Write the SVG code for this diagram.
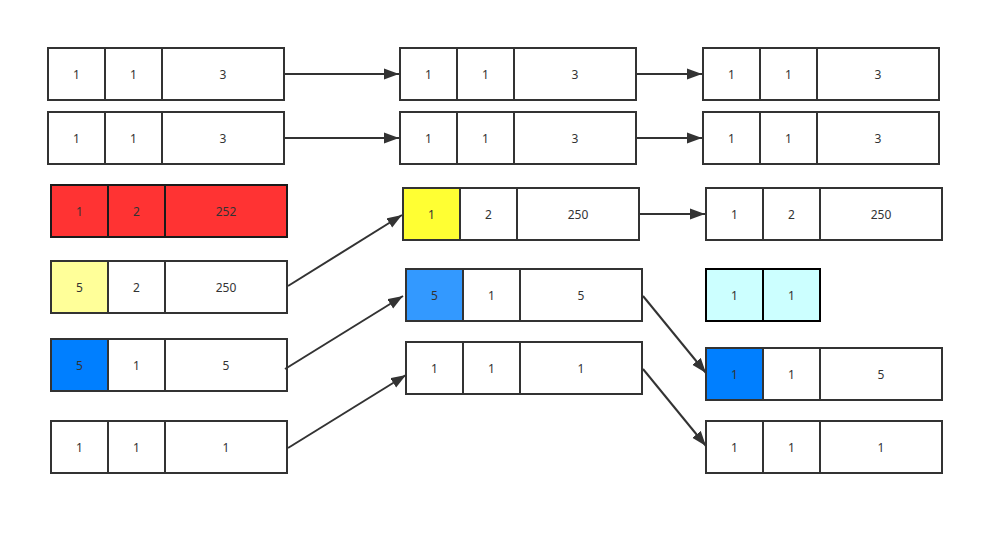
<svg xmlns="http://www.w3.org/2000/svg" width="1004" height="535" viewBox="0 0 1004 535">
<style>
.c{fill:#fff;stroke:#333;stroke-width:2}
.k{stroke:#1a1a1a}
text{font-family:"Noto Sans","DejaVu Sans",sans-serif;font-size:12px;fill:#333;text-anchor:middle;dominant-baseline:central}
.e{fill:none;stroke:#333;stroke-width:2}
</style>
<defs>
<marker id="a" markerWidth="10" markerHeight="8" refX="9" refY="4" orient="auto" markerUnits="userSpaceOnUse" viewBox="0 0 10 8">
<path d="M0,0 L10,4 L0,8 L2,4 Z" fill="#333" transform="scale(1)"/>
</marker>
<marker id="b" markerWidth="16" markerHeight="12" refX="15" refY="6" orient="auto" markerUnits="userSpaceOnUse">
<path d="M0,0.5 L15,6 L0,11.5 Z" fill="#333"/>
</marker>
</defs>
<rect width="1004" height="535" fill="#fff"/>
<g id="L1"><rect class="c" x="48" y="48" width="57" height="52"/><rect class="c" x="105" y="48" width="57" height="52"/><rect class="c" x="162" y="48" width="122" height="52"/><text x="76.5" y="74">1</text><text x="133.5" y="74">1</text><text x="223" y="74">3</text></g>
<g id="L2"><rect class="c" x="48" y="112" width="57" height="52"/><rect class="c" x="105" y="112" width="57" height="52"/><rect class="c" x="162" y="112" width="122" height="52"/><text x="76.5" y="138">1</text><text x="133.5" y="138">1</text><text x="223" y="138">3</text></g>
<g id="L3"><rect class="c k" style="fill:#ff3333" x="51" y="185" width="57" height="52"/><rect class="c k" style="fill:#ff3333" x="108" y="185" width="57" height="52"/><rect class="c k" style="fill:#ff3333" x="165" y="185" width="122" height="52"/><text x="79.5" y="211">1</text><text x="136.5" y="211">2</text><text x="226" y="211">252</text></g>
<g id="L4"><rect class="c" style="fill:#ffff99" x="51" y="261" width="57" height="52"/><rect class="c" x="108" y="261" width="57" height="52"/><rect class="c" x="165" y="261" width="122" height="52"/><text x="79.5" y="287">5</text><text x="136.5" y="287">2</text><text x="226" y="287">250</text></g>
<g id="L5"><rect class="c" style="fill:#007fff" x="51" y="339" width="57" height="52"/><rect class="c" x="108" y="339" width="57" height="52"/><rect class="c" x="165" y="339" width="122" height="52"/><text x="79.5" y="365">5</text><text x="136.5" y="365">1</text><text x="226" y="365">5</text></g>
<g id="L6"><rect class="c" x="51" y="421" width="57" height="52"/><rect class="c" x="108" y="421" width="57" height="52"/><rect class="c" x="165" y="421" width="122" height="52"/><text x="79.5" y="447">1</text><text x="136.5" y="447">1</text><text x="226" y="447">1</text></g>
<g id="M1"><rect class="c" x="400" y="48" width="57" height="52"/><rect class="c" x="457" y="48" width="57" height="52"/><rect class="c" x="514" y="48" width="122" height="52"/><text x="428.5" y="74">1</text><text x="485.5" y="74">1</text><text x="575" y="74">3</text></g>
<g id="M2"><rect class="c" x="400" y="112" width="57" height="52"/><rect class="c" x="457" y="112" width="57" height="52"/><rect class="c" x="514" y="112" width="122" height="52"/><text x="428.5" y="138">1</text><text x="485.5" y="138">1</text><text x="575" y="138">3</text></g>
<g id="M3"><rect class="c" style="fill:#ffff33" x="403" y="188" width="57" height="52"/><rect class="c" x="460" y="188" width="57" height="52"/><rect class="c" x="517" y="188" width="122" height="52"/><text x="431.5" y="214">1</text><text x="488.5" y="214">2</text><text x="578" y="214">250</text></g>
<g id="M4"><rect class="c" style="fill:#3399ff" x="406" y="269" width="57" height="52"/><rect class="c" x="463" y="269" width="57" height="52"/><rect class="c" x="520" y="269" width="122" height="52"/><text x="434.5" y="295">5</text><text x="491.5" y="295">1</text><text x="581" y="295">5</text></g>
<g id="M5"><rect class="c" x="406" y="342" width="57" height="52"/><rect class="c" x="463" y="342" width="57" height="52"/><rect class="c" x="520" y="342" width="122" height="52"/><text x="434.5" y="368">1</text><text x="491.5" y="368">1</text><text x="581" y="368">1</text></g>
<g id="R1"><rect class="c" x="703" y="48" width="57" height="52"/><rect class="c" x="760" y="48" width="57" height="52"/><rect class="c" x="817" y="48" width="122" height="52"/><text x="731.5" y="74">1</text><text x="788.5" y="74">1</text><text x="878" y="74">3</text></g>
<g id="R2"><rect class="c" x="703" y="112" width="57" height="52"/><rect class="c" x="760" y="112" width="57" height="52"/><rect class="c" x="817" y="112" width="122" height="52"/><text x="731.5" y="138">1</text><text x="788.5" y="138">1</text><text x="878" y="138">3</text></g>
<g id="R3"><rect class="c" x="706" y="188" width="57" height="52"/><rect class="c" x="763" y="188" width="57" height="52"/><rect class="c" x="820" y="188" width="122" height="52"/><text x="734.5" y="214">1</text><text x="791.5" y="214">2</text><text x="881" y="214">250</text></g>
<g id="R4"><rect class="c" style="fill:#ccffff;stroke:#000" x="706" y="269" width="57" height="52"/><rect class="c" style="fill:#ccffff;stroke:#000" x="763" y="269" width="57" height="52"/><text x="734.5" y="295">1</text><text x="791.5" y="295">1</text></g>
<g id="R5"><rect class="c" style="fill:#007fff" x="706" y="348" width="57" height="52"/><rect class="c" x="763" y="348" width="57" height="52"/><rect class="c" x="820" y="348" width="122" height="52"/><text x="734.5" y="374">1</text><text x="791.5" y="374">1</text><text x="881" y="374">5</text></g>
<g id="R6"><rect class="c" x="706" y="421" width="57" height="52"/><rect class="c" x="763" y="421" width="57" height="52"/><rect class="c" x="820" y="421" width="122" height="52"/><text x="734.5" y="447">1</text><text x="791.5" y="447">1</text><text x="881" y="447">1</text></g>
<g id="edges">
<path class="e" marker-end="url(#b)" d="M284,74 L399,74"/>
<path class="e" marker-end="url(#b)" d="M636,74 L702,74"/>
<path class="e" marker-end="url(#b)" d="M284,138 L399,138"/>
<path class="e" marker-end="url(#b)" d="M636,138 L702,138"/>
<path class="e" marker-end="url(#b)" d="M639,214 L705,214"/>
<path class="e" marker-end="url(#b)" d="M288,286 L402,215"/>
<path class="e" marker-end="url(#b)" d="M285,369 L403,296"/>
<path class="e" marker-end="url(#b)" d="M288,448 L406,375"/>
<path class="e" marker-end="url(#b)" d="M643,296 L706,373"/>
<path class="e" marker-end="url(#b)" d="M643,369 L706,446"/>
</g>
</svg>
